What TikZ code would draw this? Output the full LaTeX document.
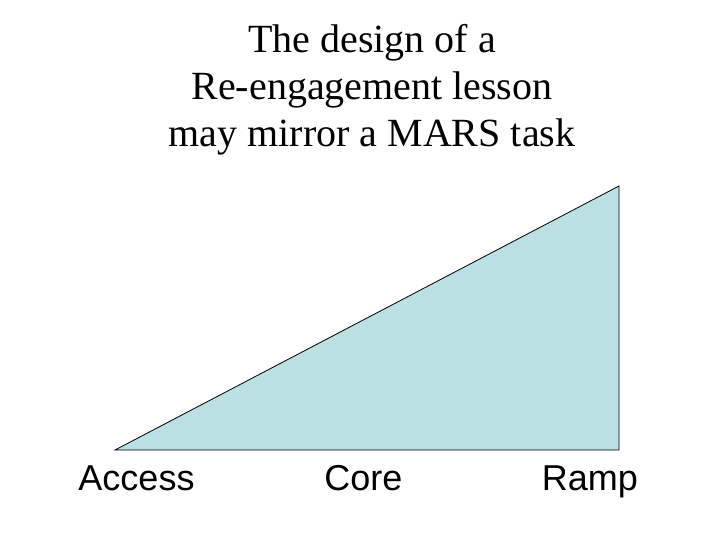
\documentclass[tikz,border=0pt]{standalone}
\usepackage{fontspec}
\setmainfont{Liberation Serif}
\setsansfont{Liberation Sans}
\usepackage{xcolor}
\definecolor{rampblue}{RGB}{187,224,227}
\usetikzlibrary{positioning}

\begin{document}
\begin{tikzpicture}[x=1pt, y=-1pt,
  stagelabel/.style={font=\sffamily\fontsize{36}{42}\selectfont, anchor=base, inner sep=0pt}]
\useasboundingbox (0,0) rectangle (720,540);

% === Title ===
\node[font=\fontsize{40}{47}\selectfont, align=center] (title) at (372,90)
     {The design of a\\Re-engagement lesson\\may mirror a MARS task};

% === Ramp triangle ===
\coordinate (access) at (115,450);
\coordinate (base) at (619,450);
\coordinate (top) at (619,186);
\draw[fill=rampblue, line width=0.8pt, line join=miter] (access) -- (base) -- (top) -- cycle;

% === Stage labels ===
\node[stagelabel] (l1) at (136.5,490) {Access};
\node[stagelabel] (l2) at (363.5,490) {Core};
\node[stagelabel] (l3) at (590,490) {Ramp};

\end{tikzpicture}
\end{document}
